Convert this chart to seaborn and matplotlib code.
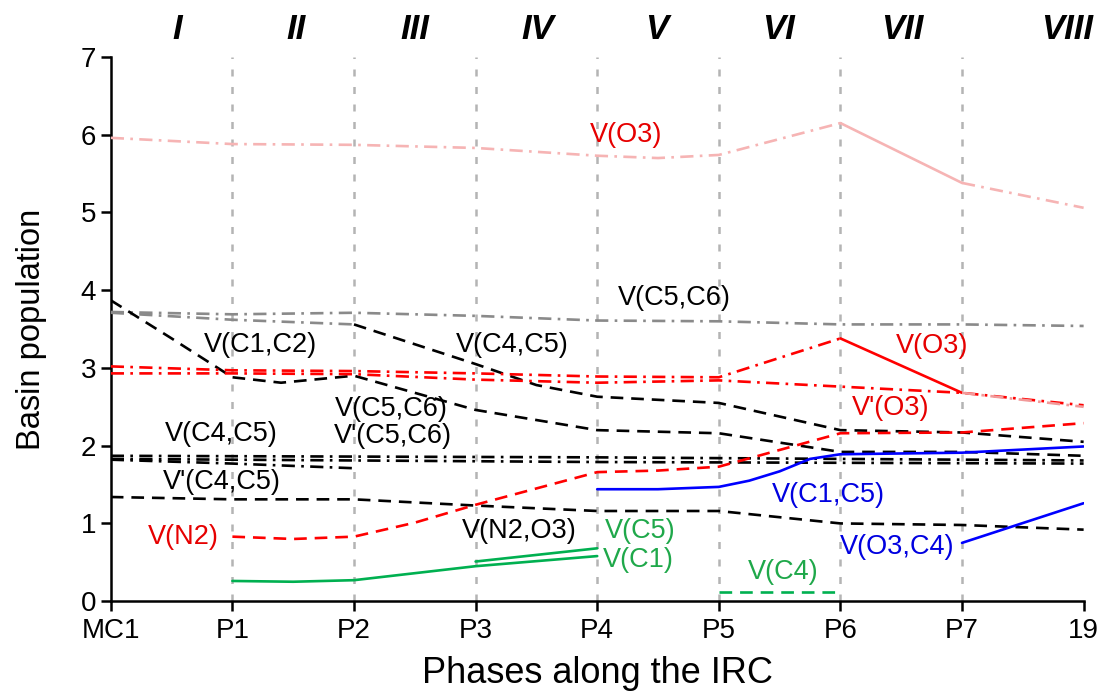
import matplotlib
matplotlib.use('Agg')
import matplotlib.pyplot as plt
import seaborn as sns

phases = ["MC1", "P1", "P2", "P3", "P4", "P5", "P6", "P7", "19"]
regions = ["I", "II", "III", "IV", "V", "VI", "VII", "VIII"]
region_x = [0.55, 1.52, 2.50, 3.51, 4.49, 5.49, 6.51, 7.86]

# basin populations read along the IRC (x = phase index)
vo3_top_x = [0, 1, 2, 3, 4, 4.5, 5, 6]
vo3_top_y = [5.96, 5.88, 5.87, 5.83, 5.73, 5.70, 5.74, 6.15]
vo3_top_mid_x = [6, 7]
vo3_top_mid_y = [6.15, 5.38]
vo3_top_end_x = [7, 8]
vo3_top_end_y = [5.38, 5.06]

vc5c6_grey_x = [0, 1, 2, 3, 4, 5, 6, 7, 8]
vc5c6_grey_y = [3.72, 3.69, 3.71, 3.67, 3.61, 3.60, 3.56, 3.56, 3.54]

vc4c5_grey_x = [0, 1, 2]
vc4c5_grey_y = [3.71, 3.62, 3.56]
vc4c5_x = [2, 3, 3.5, 4, 5, 6, 7, 8]
vc4c5_y = [3.56, 3.05, 2.78, 2.63, 2.55, 2.20, 2.17, 2.05]

vc1c2_x = [0, 0.5, 1, 1.4, 2, 3, 4, 5, 6, 7, 8]
vc1c2_y = [3.87, 3.38, 2.88, 2.81, 2.90, 2.46, 2.20, 2.16, 1.92, 1.92, 1.87]

vo3_x = [0, 1, 2, 3, 4, 5, 6]
vo3_y = [3.02, 2.97, 2.96, 2.93, 2.89, 2.88, 3.38]
vo3_mid_x = [6, 7]
vo3_mid_y = [3.38, 2.68]
vo3_end_x = [7, 8]
vo3_end_y = [2.68, 2.50]

vpo3_x = [0, 1, 2, 3, 4, 5, 6, 7, 8]
vpo3_y = [2.93, 2.93, 2.92, 2.85, 2.81, 2.84, 2.76, 2.68, 2.52]

vn2_x = [1, 1.5, 2, 2.5, 3, 4, 4.5, 5, 6, 7, 8]
vn2_y = [0.83, 0.80, 0.83, 1.01, 1.24, 1.66, 1.68, 1.73, 2.16, 2.17, 2.29]

vc1c5_x = [4, 4.5, 5, 5.25, 5.5, 5.75, 6, 7, 8]
vc1c5_y = [1.44, 1.44, 1.47, 1.55, 1.67, 1.83, 1.89, 1.91, 1.99]

vo3c4_x = [7, 8]
vo3c4_y = [0.75, 1.26]

vc1_x = [1, 1.5, 2, 2.5, 3, 4]
vc1_y = [0.26, 0.25, 0.27, 0.36, 0.45, 0.58]
vc5_x = [3, 4]
vc5_y = [0.51, 0.68]
vc4_x = [5, 6]
vc4_y = [0.12, 0.12]

vn2o3_x = [0, 1, 2, 3, 4, 5, 6, 7, 8]
vn2o3_y = [1.34, 1.31, 1.31, 1.23, 1.16, 1.16, 1.00, 0.98, 0.92]

vc4c5_low_x = [0, 2, 4, 6, 8]
vc4c5_low_y = [1.87, 1.86, 1.85, 1.83, 1.81]
vpc5c6_x = [0, 2, 4, 6, 8]
vpc5c6_y = [1.83, 1.81, 1.79, 1.78, 1.77]
vpc4c5_x = [0, 1, 2]
vpc4c5_y = [1.82, 1.77, 1.71]

RED = "#ff0000"
PINK = "#f6b4b4"
LRED = "#f29a9a"
GREY = "#8a8a8a"
BLUE = "#0000ff"
GREEN = "#00b050"
DASH = (0, (4.8, 3.0))
DDOT = (0, (5.0, 2.4, 1.0, 2.4))

segments = [
    (vo3_top_x, vo3_top_y, PINK, DDOT),
    (vo3_top_mid_x, vo3_top_mid_y, PINK, "-"),
    (vo3_top_end_x, vo3_top_end_y, PINK, DDOT),
    (vc5c6_grey_x, vc5c6_grey_y, GREY, DDOT),
    (vc4c5_grey_x, vc4c5_grey_y, GREY, DDOT),
    (vc4c5_x, vc4c5_y, "black", DASH),
    (vc1c2_x, vc1c2_y, "black", DASH),
    (vn2o3_x, vn2o3_y, "black", DASH),
    (vc4c5_low_x, vc4c5_low_y, "black", DDOT),
    (vpc5c6_x, vpc5c6_y, "black", DDOT),
    (vpc4c5_x, vpc4c5_y, "black", DDOT),
    (vpo3_x, vpo3_y, RED, DDOT),
    (vo3_x, vo3_y, RED, DDOT),
    (vo3_mid_x, vo3_mid_y, RED, "-"),
    (vo3_end_x, vo3_end_y, LRED, DDOT),
    (vn2_x, vn2_y, RED, DASH),
    (vc1c5_x, vc1c5_y, BLUE, "-"),
    (vo3c4_x, vo3c4_y, BLUE, "-"),
    (vc1_x, vc1_y, GREEN, "-"),
    (vc5_x, vc5_y, GREEN, "-"),
    (vc4_x, vc4_y, GREEN, DASH),
]

labels = [
    ("V(O3)", 4.24, 6.00, "#e60000"),
    ("V(C5,C6)", 4.63, 3.90, "black"),
    ("V(C1,C2)", 1.23, 3.29, "black"),
    ("V(C4,C5)", 3.30, 3.29, "black"),
    ("V(O3)", 6.75, 3.28, "#e60000"),
    ("V'(O3)", 6.41, 2.48, "#e60000"),
    ("V(C5,C6)", 2.31, 2.47, "black"),
    ("V'(C5,C6)", 2.32, 2.12, "black"),
    ("V(C4,C5)", 0.91, 2.15, "black"),
    ("V'(C4,C5)", 0.91, 1.53, "black"),
    ("V(N2)", 0.60, 0.82, "#e60000"),
    ("V(N2,O3)", 3.36, 0.90, "black"),
    ("V(C5)", 4.35, 0.90, "#1fa84a"),
    ("V(C1)", 4.34, 0.53, "#1fa84a"),
    ("V(C4)", 5.53, 0.37, "#1fa84a"),
    ("V(C1,C5)", 5.90, 1.36, "#0000e0"),
    ("V(O3,C4)", 6.47, 0.70, "#0000e0"),
]

sns.set_style("ticks")
plt.rcParams['font.family'] = ['Liberation Sans', 'DejaVu Sans']
plt.rcParams['text.color'] = 'black'
plt.rcParams['axes.labelcolor'] = 'black'

fig = plt.figure(figsize=(11.08, 6.95), dpi=100)
ax = fig.add_axes([0.100, 0.135, 0.878, 0.783])

# phase separators
for i in range(1, 8):
    ax.plot([i, i], [0, 7], color="#b4b4b4", lw=1.8, linestyle=(0, (2.8, 4.2)), zorder=1)

for xs, ys, c, ls in segments:
    sns.lineplot(x=xs, y=ys, color=c, linestyle=ls, linewidth=1.9, ax=ax,
                 sort=False, estimator=None, zorder=3)

for txt, x, y, c in labels:
    ax.text(x, y, txt, color=c, fontsize=19.5, ha="center", va="center", zorder=4)

for x, r in zip(region_x, regions):
    ax.text(x, 1.05, r, transform=ax.get_xaxis_transform(), ha="center", va="center",
            fontsize=25, fontweight="bold", fontstyle="italic", color="black")

ax.set_xlim(0, 8)
ax.set_ylim(0, 7)
ax.set_xticks(range(9))
ax.set_xticklabels(phases)
ax.set_yticks(range(8))
ax.tick_params(axis="both", labelsize=20, length=7, width=1.8, direction="out", colors="black")
ax.tick_params(axis="x", pad=5)
ax.set_xlabel("Phases along the IRC", fontsize=26, labelpad=9, color="black")
ax.set_ylabel("Basin population", fontsize=23.5, labelpad=24, color="black")
sns.despine(ax=ax)
for s in ("left", "bottom"):
    ax.spines[s].set_linewidth(1.8)
    ax.spines[s].set_color("black")

fig.savefig("out.png", dpi=100)
